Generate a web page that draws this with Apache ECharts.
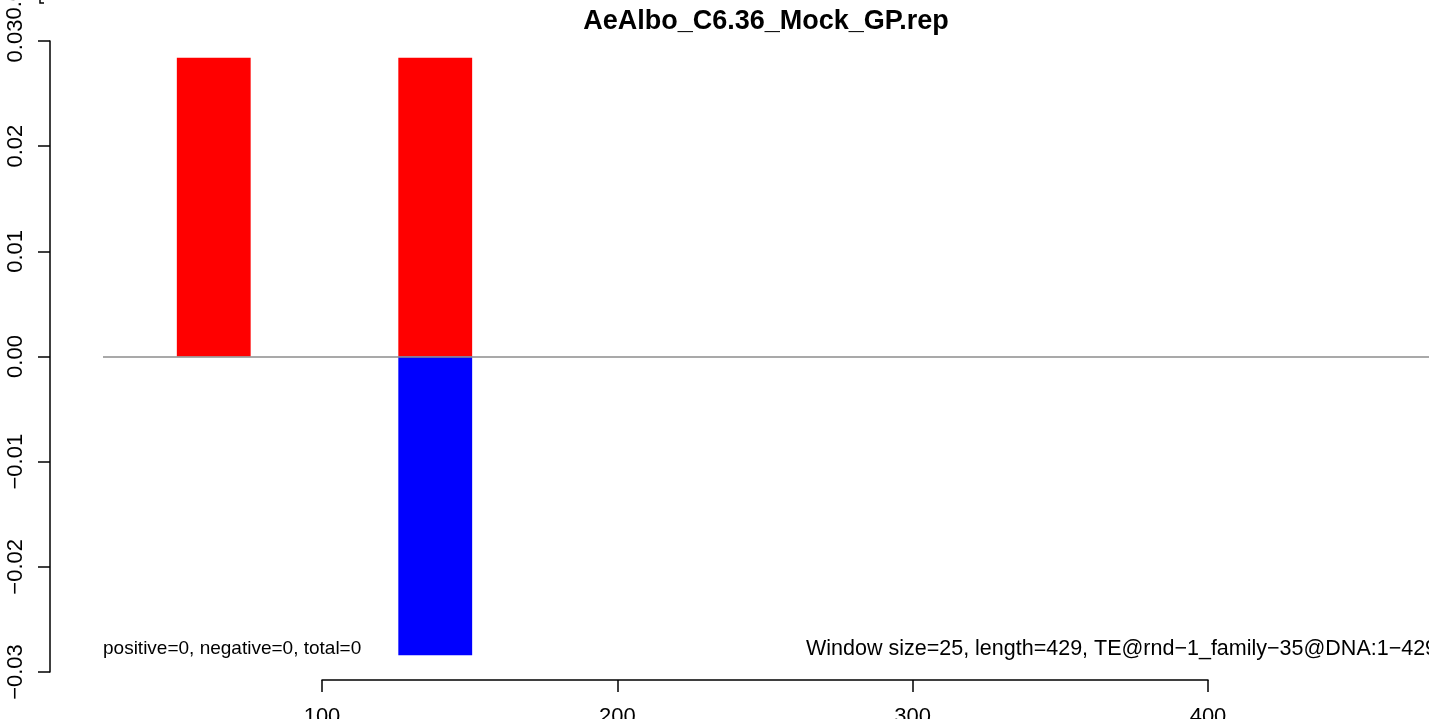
<!DOCTYPE html>
<html>
<head>
<meta charset="utf-8">
<script src="https://cdn.jsdelivr.net/npm/echarts@6/dist/echarts.min.js"></script>
<style>
html,body{margin:0;padding:0;background:#fff;}
#chart{width:1429px;height:719px;}
</style>
</head>
<body>
<div id="chart"></div>
<script>
// ---- data ----
var chartTitle = "AeAlbo_C6.36_Mock_GP.rep";
var windowStart = [51, 126];
var windowEnd = [76, 151];
var positiveValues = [0.0284, 0.0284];
var negativeValues = [0, -0.0284];
var yTickValues = [-0.03, -0.02, -0.01, 0.00, 0.01, 0.02, 0.03];
var yTickLabels = ["\u22120.03", "\u22120.02", "\u22120.01", "0.00", "0.01", "0.02", "0.03"];
var xTickValues = [100, 200, 300, 400];
var xTickLabels = ["100", "200", "300", "400"];
var leftNote = "positive=0, negative=0, total=0";
var rightNote = "Window size=25, length=429, TE@rnd\u22121_family\u221235@DNA:1\u2212429";

var FONT = "Liberation Sans, Arial, Helvetica, sans-serif";

function rows(vals) {
  return vals.map(function (v, i) { return [windowStart[i], windowEnd[i], v]; });
}
function renderBar(params, api) {
  var p1 = api.coord([api.value(0), api.value(2)]);
  var p2 = api.coord([api.value(1), 0]);
  var x = Math.min(p1[0], p2[0]), y = Math.min(p1[1], p2[1]);
  return {
    type: 'rect',
    shape: { x: x, y: y, width: Math.abs(p2[0] - p1[0]), height: Math.abs(p2[1] - p1[1]) },
    style: api.style()
  };
}
function yLabel(v) {
  for (var i = 0; i < yTickValues.length; i++) {
    if (Math.abs(yTickValues[i] - v) < 1e-9) return yTickLabels[i];
  }
  return '';
}
function xLabel(v) {
  var i = xTickValues.indexOf(Math.round(v));
  return i >= 0 ? xTickLabels[i] : '';
}

var chart = echarts.init(document.getElementById('chart'), null, { renderer: 'canvas' });
chart.setOption({
  backgroundColor: '#ffffff',
  animation: false,
  grid: [
    { left: 103, right: 0, top: 41, bottom: 47, containLabel: false, outerBoundsMode: 'none' },
    { left: 322, width: 886, top: 660, height: 20, containLabel: false, outerBoundsMode: 'none' }
  ],
  xAxis: [
    { gridIndex: 0, type: 'value', min: 26, max: 475, show: false },
    {
      gridIndex: 1, type: 'value', min: 100, max: 400, interval: 100, position: 'bottom',
      axisLine: { show: true, onZero: false, lineStyle: { color: '#000', width: 1.5 } },
      axisTick: { show: true, length: 12, lineStyle: { color: '#000', width: 1.5 } },
      axisLabel: { color: '#000', fontFamily: FONT, fontSize: 22, margin: 26, formatter: xLabel },
      splitLine: { show: false }
    }
  ],
  yAxis: [
    {
      gridIndex: 0, type: 'value', min: -0.03, max: 0.03, interval: 0.01, offset: 53,
      axisLine: { show: true, onZero: false, lineStyle: { color: '#000', width: 1.5 } },
      axisTick: { show: true, length: 12, lineStyle: { color: '#000', width: 1.5 } },
      axisLabel: { color: '#000', fontFamily: FONT, fontSize: 22, rotate: 90, margin: 23, formatter: yLabel },
      splitLine: { show: false }
    },
    { gridIndex: 1, type: 'value', min: 0, max: 1, show: false }
  ],
  series: [
    {
      type: 'custom', xAxisIndex: 0, yAxisIndex: 0, renderItem: renderBar,
      itemStyle: { color: '#ff0000' }, data: rows(positiveValues),
      markLine: {
        silent: true, symbol: 'none', label: { show: false },
        lineStyle: { color: '#8c8c8c', width: 1.5, type: 'solid' },
        data: [{ yAxis: 0 }]
      }
    },
    {
      type: 'custom', xAxisIndex: 0, yAxisIndex: 0, renderItem: renderBar,
      itemStyle: { color: '#0000ff' }, data: rows(negativeValues)
    }
  ],
  graphic: [
    { type: 'text', x: 766, y: 22, style: { text: chartTitle, fill: '#000', font: 'bold 27px ' + FONT, textAlign: 'center', textVerticalAlign: 'middle' } },
    { type: 'text', x: 103, y: 649, style: { text: leftNote, fill: '#000', font: '19px ' + FONT, textAlign: 'left', textVerticalAlign: 'middle' } },
    { type: 'text', x: 806, y: 649, style: { text: rightNote, fill: '#000', font: '21.5px ' + FONT, textAlign: 'left', textVerticalAlign: 'middle' } },
    { type: 'text', x: 15, y: -2, rotation: Math.PI / 2, style: { text: '0.04', fill: '#000', font: '22px ' + FONT, textAlign: 'center', textVerticalAlign: 'middle' } },
    { type: 'polyline', shape: { points: [[40, 0], [40, 3], [44, 3]] }, style: { stroke: '#000', lineWidth: 1.5, fill: null } }
  ]
});
</script>
</body>
</html>
